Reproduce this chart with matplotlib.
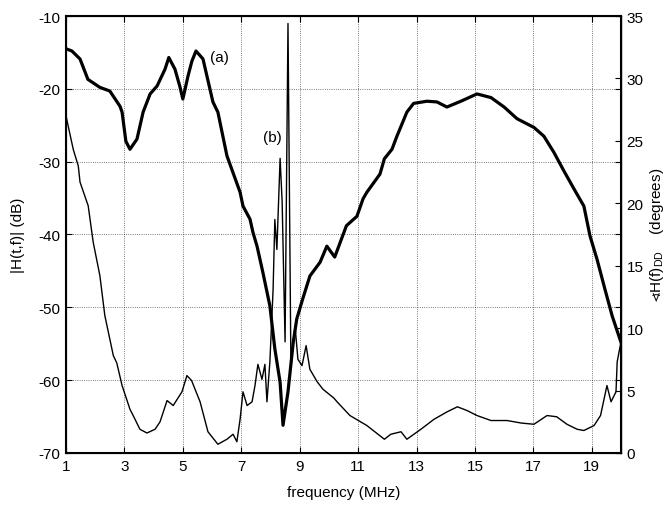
import matplotlib.pyplot as plt
import numpy as np

plt.rcParams['font.family'] = ['Liberation Sans', 'DejaVu Sans']
plt.rcParams['font.size'] = 11
plt.rcParams['axes.unicode_minus'] = False
plt.rcParams['mathtext.fontset'] = 'custom'
plt.rcParams['mathtext.rm'] = 'Liberation Sans'

# curve (a): magnitude in dB
FREQ_A = [1.0, 1.2, 1.48, 1.75, 2.16, 2.5, 2.85, 2.92, 3.05, 3.19, 3.43, 3.64, 3.88, 4.12,
          4.39, 4.52, 4.73, 4.9, 5.0, 5.18, 5.31, 5.45, 5.69, 6.03, 6.2, 6.51, 6.96, 7.06,
          7.3, 7.4, 7.54, 7.74, 7.98, 8.15, 8.33, 8.43, 8.6, 8.78, 8.9, 9.1, 9.35, 9.7,
          9.93, 10.2, 10.6, 10.96, 11.17, 11.3, 11.75, 11.9, 12.16, 12.33, 12.67, 12.9,
          13.36, 13.7, 14.04, 14.52, 15.07, 15.55, 16.0, 16.44, 17.02, 17.36, 17.7, 18.05,
          18.4, 18.73, 18.94, 19.18, 19.45, 19.7, 20.0]
MAG_DB = [-14.5, -14.8, -15.9, -18.7, -19.8, -20.3, -22.4, -23.2, -27.2, -28.3, -26.9,
          -23.2, -20.7, -19.6, -17.3, -15.7, -17.3, -19.7, -21.4, -18.2, -16.2, -14.8,
          -15.9, -21.8, -23.2, -29.2, -34.2, -36.1, -37.9, -39.7, -41.6, -45.2, -49.8,
          -55.7, -60.3, -66.2, -61.6, -54.8, -51.6, -48.9, -45.7, -43.8, -41.6, -43.1,
          -38.8, -37.5, -35.1, -34.2, -31.7, -29.6, -28.3, -26.5, -23.2, -22.0, -21.7,
          -21.8, -22.5, -21.7, -20.7, -21.2, -22.5, -24.1, -25.3, -26.5, -28.7, -31.3,
          -33.8, -36.1, -40.2, -43.4, -47.5, -51.2, -54.8]

# curve (b): phase in degrees
FREQ_B = [1.0, 1.25, 1.42, 1.48, 1.76, 1.93, 2.16, 2.33, 2.62, 2.74, 2.92, 3.19, 3.3,
          3.53, 3.77, 4.05, 4.22, 4.46, 4.67, 4.97, 5.14, 5.3, 5.59, 5.86, 6.2, 6.51,
          6.72, 6.85, 6.96, 7.06, 7.2, 7.37, 7.47, 7.57, 7.71, 7.81, 7.88, 7.98, 8.09,
          8.15, 8.22, 8.33, 8.4, 8.5, 8.6, 8.7, 8.84, 8.94, 9.08, 9.22, 9.35, 9.6, 9.8,
          10.17, 10.28, 10.72, 11.3, 11.9, 12.12, 12.47, 12.67, 13.15, 13.6, 14.05, 14.4,
          14.73, 15.07, 15.55, 16.1, 16.58, 17.02, 17.47, 17.8, 18.15, 18.5, 18.73, 19.08,
          19.3, 19.52, 19.66, 19.83, 19.87, 20.0]
PHASE_DEG = [27.0, 24.3, 23.0, 21.7, 19.8, 16.9, 14.2, 11.0, 7.8, 7.2, 5.4, 3.5, 3.0,
             1.9, 1.6, 1.9, 2.5, 4.2, 3.8, 4.9, 6.2, 5.8, 4.1, 1.7, 0.7, 1.1, 1.5, 0.9,
             2.7, 4.9, 3.8, 4.1, 5.4, 7.1, 5.9, 7.1, 4.1, 7.3, 13.1, 18.7, 16.3, 23.6,
             20.1, 8.9, 34.4, 7.0, 10.2, 7.5, 7.0, 8.6, 6.7, 5.7, 5.1, 4.4, 4.1, 3.0, 2.2,
             1.1, 1.5, 1.7, 1.1, 1.9, 2.7, 3.3, 3.7, 3.4, 3.0, 2.6, 2.6, 2.4, 2.3, 3.0,
             2.9, 2.3, 1.9, 1.8, 2.2, 3.0, 5.4, 4.1, 4.9, 7.3, 8.9]

X_TICKS = [1, 3, 5, 7, 9, 11, 13, 15, 17, 19]
Y_TICKS = [-70, -60, -50, -40, -30, -20, -10]
Y2_TICKS = [0, 5, 10, 15, 20, 25, 30, 35]

fig = plt.figure(figsize=(6.68, 5.06), dpi=100)
ax = fig.add_axes([0.0988, 0.1028, 0.8308, 0.8636])
ax2 = ax.twinx()

ax.plot(FREQ_A, MAG_DB, c='k', lw=2.3)
ax2.plot(FREQ_B, PHASE_DEG, c='k', lw=1.0)

ax.set_xlim(1, 20)
ax.set_ylim(-70, -10)
ax2.set_ylim(0, 35)
ax.set_xticks(X_TICKS)
ax.set_yticks(Y_TICKS)
ax2.set_yticks(Y2_TICKS)

ax.grid(True, ls=':', c='k', lw=0.6, alpha=0.7)
ax.tick_params(direction='in', length=4, pad=4, top=True, right=True)
ax2.tick_params(direction='in', length=4, pad=4)
for sp in ax.spines.values():
    sp.set_linewidth(1.5)
ax2.spines['right'].set_linewidth(1.0)

ax.set_xlabel('frequency (MHz)', labelpad=9)
ax.set_ylabel('|H(t,f)| (dB)', labelpad=10)
ax2.set_ylabel(r'$\sphericalangle$H(f)$_{\rm DD}$    (degrees)', labelpad=3)

ax.text(6.24, -15.6, '(a)', ha='center', va='center')
ax.text(8.05, -26.6, '(b)', ha='center', va='center')

plt.savefig('out.png', dpi=100)
